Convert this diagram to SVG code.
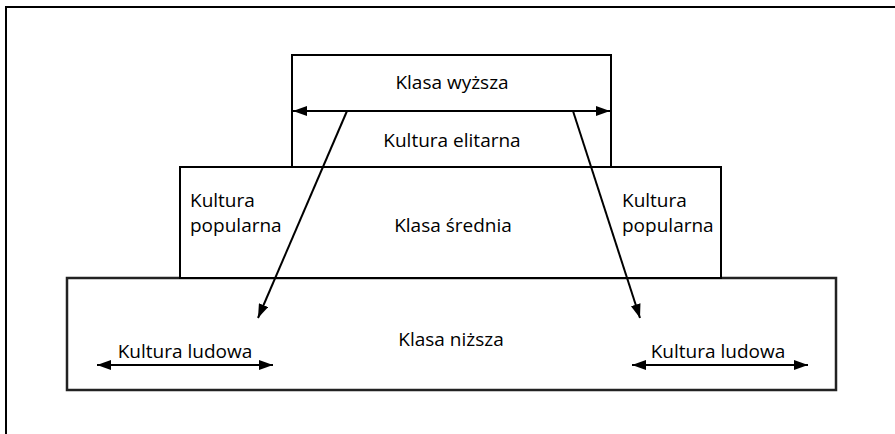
<svg xmlns="http://www.w3.org/2000/svg" width="895" height="434" viewBox="0 0 895 434">
<style>
.box{fill:#fff;stroke:#000;stroke-width:2}
.lbl{font-family:"Open Sans","Noto Sans",sans-serif;font-size:19px;fill:#000}
.c{text-anchor:middle}
.ln{stroke:#000;stroke-width:2;fill:none}
</style>
<defs>
<marker id="ah" viewBox="0 0 14 10" refX="14" refY="5" markerWidth="14" markerHeight="10" markerUnits="userSpaceOnUse" orient="auto-start-reverse">
<path d="M0,0 L14,5 L0,10 Z" fill="#000"/>
</marker>
</defs>
<rect width="895" height="434" fill="#fff"/>
<path d="M6,434 V7 H895" class="ln"/>
<g id="bottom">
<rect class="box" x="67" y="278" width="769" height="112" style="stroke-width:2.5;stroke:#222"/>
<text class="lbl c" x="451" y="346">Klasa niższa</text>
</g>
<g id="middle">
<rect class="box" x="180" y="167" width="541" height="111"/>
<text class="lbl c" x="453" y="232">Klasa średnia</text>
<text class="lbl" x="190" y="207">Kultura</text>
<text class="lbl" x="190" y="232">popularna</text>
<text class="lbl" x="622" y="207">Kultura</text>
<text class="lbl" x="622" y="232">popularna</text>
</g>
<g id="top">
<rect class="box" x="292" y="55" width="319" height="112"/>
<text class="lbl c" x="452" y="89">Klasa wyższa</text>
<text class="lbl c" x="452" y="147">Kultura elitarna</text>
</g>
<g id="ludowa-left">
<text class="lbl c" x="185" y="358">Kultura ludowa</text>
</g>
<g id="ludowa-right">
<text class="lbl c" x="718" y="358">Kultura ludowa</text>
</g>
<g id="connectors">
<line class="ln" x1="293" y1="111" x2="610" y2="111" marker-start="url(#ah)" marker-end="url(#ah)"/>
<line class="ln" x1="347" y1="111" x2="258" y2="318" marker-end="url(#ah)"/>
<line class="ln" x1="573" y1="111" x2="640" y2="318" marker-end="url(#ah)"/>
<line class="ln" x1="97" y1="365" x2="273" y2="365" marker-start="url(#ah)" marker-end="url(#ah)"/>
<line class="ln" x1="632" y1="365" x2="808" y2="365" marker-start="url(#ah)" marker-end="url(#ah)"/>
</g>
</svg>
